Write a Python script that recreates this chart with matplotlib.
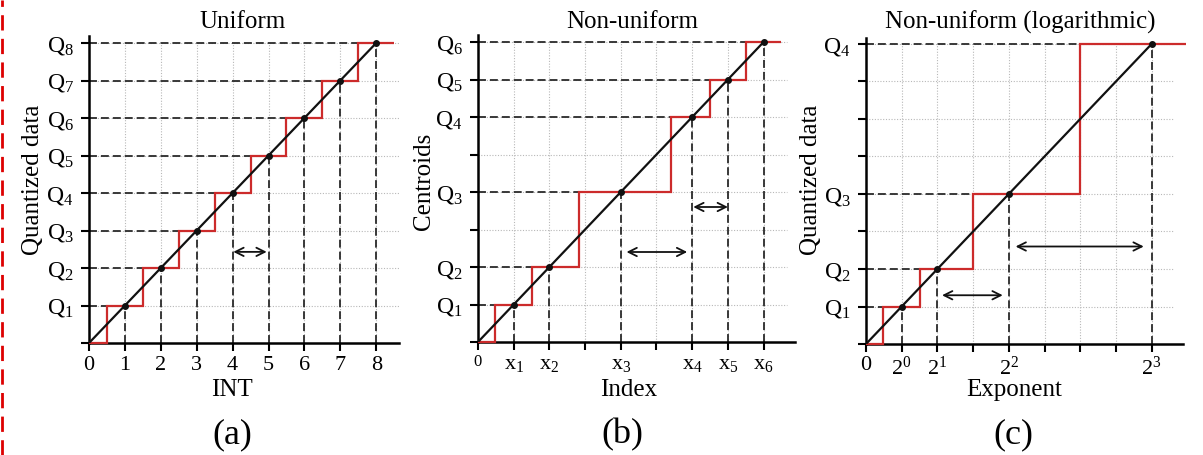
import matplotlib
matplotlib.use("Agg")
import matplotlib.pyplot as plt
from matplotlib.lines import Line2D

plt.rcParams['font.family'] = ['Liberation Serif', 'DejaVu Serif']
plt.rcParams['mathtext.fontset'] = 'custom'
plt.rcParams['mathtext.rm'] = 'Liberation Serif'
plt.rcParams['mathtext.it'] = 'Liberation Serif'
plt.rcParams['mathtext.default'] = 'rm'

# ---------------- data ----------------
# (a) uniform
a_pts_x = [1, 2, 3, 4, 5, 6, 7, 8]
a_pts_q = [1, 2, 3, 4, 5, 6, 7, 8]
a_red_edges = [0, 0.5, 1.5, 2.5, 3.5, 4.5, 5.5, 6.5, 7.5, 8.5]
a_red_levels = [0, 1, 2, 3, 4, 5, 6, 7, 8]
a_xticklabels = ['0', '1', '2', '3', '4', '5', '6', '7', '8']
a_yticklabels = ['', 'Q$_1$', 'Q$_2$', 'Q$_3$', 'Q$_4$', 'Q$_5$', 'Q$_6$', 'Q$_7$', 'Q$_8$']
a_arrows = [(4.02, 4.95, 2.43)]

# (b) non-uniform
b_pts_x = [1, 2, 4, 6, 7, 8]
b_pts_q = [1, 2, 4, 6, 7, 8]
b_red_edges = [0, 0.47, 1.5, 2.83, 5.42, 6.5, 7.5, 8.5]
b_red_levels = [0, 1, 2, 4, 6, 7, 8]
b_xticklabels = ['0', 'x$_1$', 'x$_2$', '', 'x$_3$', '', 'x$_4$', 'x$_5$', 'x$_6$']
b_yticklabels = ['', 'Q$_1$', 'Q$_2$', '', 'Q$_3$', '', 'Q$_4$', 'Q$_5$', 'Q$_6$']
b_arrows = [(4.16, 5.86, 2.4), (6.03, 7.0, 3.6)]

# (c) non-uniform (logarithmic)
c_pts_x = [1, 2, 4, 8]
c_pts_q = [1, 2, 4, 8]
c_red_edges = [0, 0.48, 1.5, 3, 6, 8.95]
c_red_levels = [0, 1, 2, 4, 8]
c_xticklabels = ['0', '2$^0$', '2$^1$', '', '2$^2$', '', '', '', '2$^3$']
c_yticklabels = ['', 'Q$_1$', 'Q$_2$', '', 'Q$_3$', '', '', '', 'Q$_4$']
c_arrows = [(2.13, 3.83, 1.3), (4.19, 7.78, 2.6)]

ticks = list(range(9))

W, H = 1203, 455
fig = plt.figure(figsize=(W / 100, H / 100), dpi=100)

RED = '#cc2b2b'


def make_axes(ox, oy, ux, uy, xmax, ymax):
    return fig.add_axes([ox / W, (H - oy) / H, xmax * ux / W, ymax * uy / H])


def draw_panel(ax, xmax, ymax, gx_end, pts_x, pts_q, red_edges, red_levels,
               xtl, ytl, arrows):
    ax.set_xlim(0, xmax)
    ax.set_ylim(0, ymax)
    for s in ['top', 'right']:
        ax.spines[s].set_visible(False)
    for s in ['left', 'bottom']:
        ax.spines[s].set_linewidth(1.8)
    # grid
    for t in ticks[1:]:
        ax.plot([t, t], [0, 8], color='#b8b8b8', lw=0.8, dashes=(1, 1.5), zorder=1)
        ax.plot([0, gx_end], [t, t], color='#b8b8b8', lw=0.8, dashes=(1, 1.5), zorder=1)
    # dashed guides
    for x, q in zip(pts_x, pts_q):
        ax.plot([0, x], [q, q], color='#2a2a2a', lw=1.3, dashes=(4.4, 2.2), zorder=2)
        ax.plot([x, x], [0, q], color='#2a2a2a', lw=1.3, dashes=(4.4, 2.2), zorder=2)
    # red staircase
    ax.stairs(red_levels, red_edges, baseline=None, color=RED, lw=1.6,
              zorder=3, clip_on=False)
    # diagonal
    ax.plot([0, pts_x[-1]], [0, pts_q[-1]], color='#111111', lw=1.6, zorder=4)
    ax.plot(pts_x, pts_q, 'o', color='#111111', ms=4, zorder=5)
    # arrows
    for x0, x1, y in arrows:
        ax.annotate('', xy=(x1, y), xytext=(x0, y),
                    arrowprops=dict(arrowstyle='<->,head_length=0.6,head_width=0.3',
                                    color='#111111', lw=1.3, shrinkA=0, shrinkB=0),
                    zorder=6)
    ax.set_xticks(ticks)
    ax.set_yticks(ticks)
    ax.set_xticklabels(xtl, fontsize=16)
    ax.set_yticklabels(ytl, fontsize=17)
    ax.tick_params(direction='out', length=6, width=1.5)
    ax.tick_params(axis='x', pad=3)
    ax.tick_params(axis='y', pad=5)


axa = make_axes(89, 343, 35.9, 37.5, 8.63, 8.2)
draw_panel(axa, 8.63, 8.2, 8.63, a_pts_x, a_pts_q, a_red_edges, a_red_levels,
           a_xticklabels, a_yticklabels, a_arrows)

axb = make_axes(478, 342, 35.7, 37.5, 8.88, 8.2)
draw_panel(axb, 8.88, 8.2, 8.65, b_pts_x, b_pts_q, b_red_edges, b_red_levels,
           b_xticklabels, b_yticklabels, b_arrows)
axb.get_xticklabels()[0].set_fontsize(12)

axc = make_axes(866, 344, 35.7, 37.5, 8.89, 8.16)
draw_panel(axc, 8.89, 8.16, 8.6, c_pts_x, c_pts_q, c_red_edges, c_red_levels,
           c_xticklabels, c_yticklabels, c_arrows)


def ftext(x, y, s, size, rot=0):
    fig.text(x / W, 1 - y / H, s, fontsize=size, ha='center', va='center',
             rotation=rot)


# titles
ftext(243, 22, 'Uniform', 18)
ftext(632, 22, 'Non-uniform', 18)
ftext(1020, 22, 'Non-uniform (logarithmic)', 18)
# x labels
ftext(232, 390, 'INT', 18)
ftext(629, 390, 'Index', 18)
ftext(1014, 390, 'Exponent', 18)
# y labels
ftext(33, 180, 'Quantized data', 18, rot=90)
ftext(424, 181, 'Centroids', 18, rot=90)
ftext(811, 180, 'Quantized data', 18, rot=90)
# panel letters
ftext(232, 435, '(a)', 26)
ftext(622, 435, '(b)', 26)
ftext(1013, 435, '(c)', 26)

# red dashed edge marker on the left
fig.add_artist(Line2D([1.5 / W, 1.5 / W], [0, 1], transform=fig.transFigure,
                      color='#dd0000', lw=2, dashes=(5.5, 3)))

fig.savefig('out.png', dpi=100)
